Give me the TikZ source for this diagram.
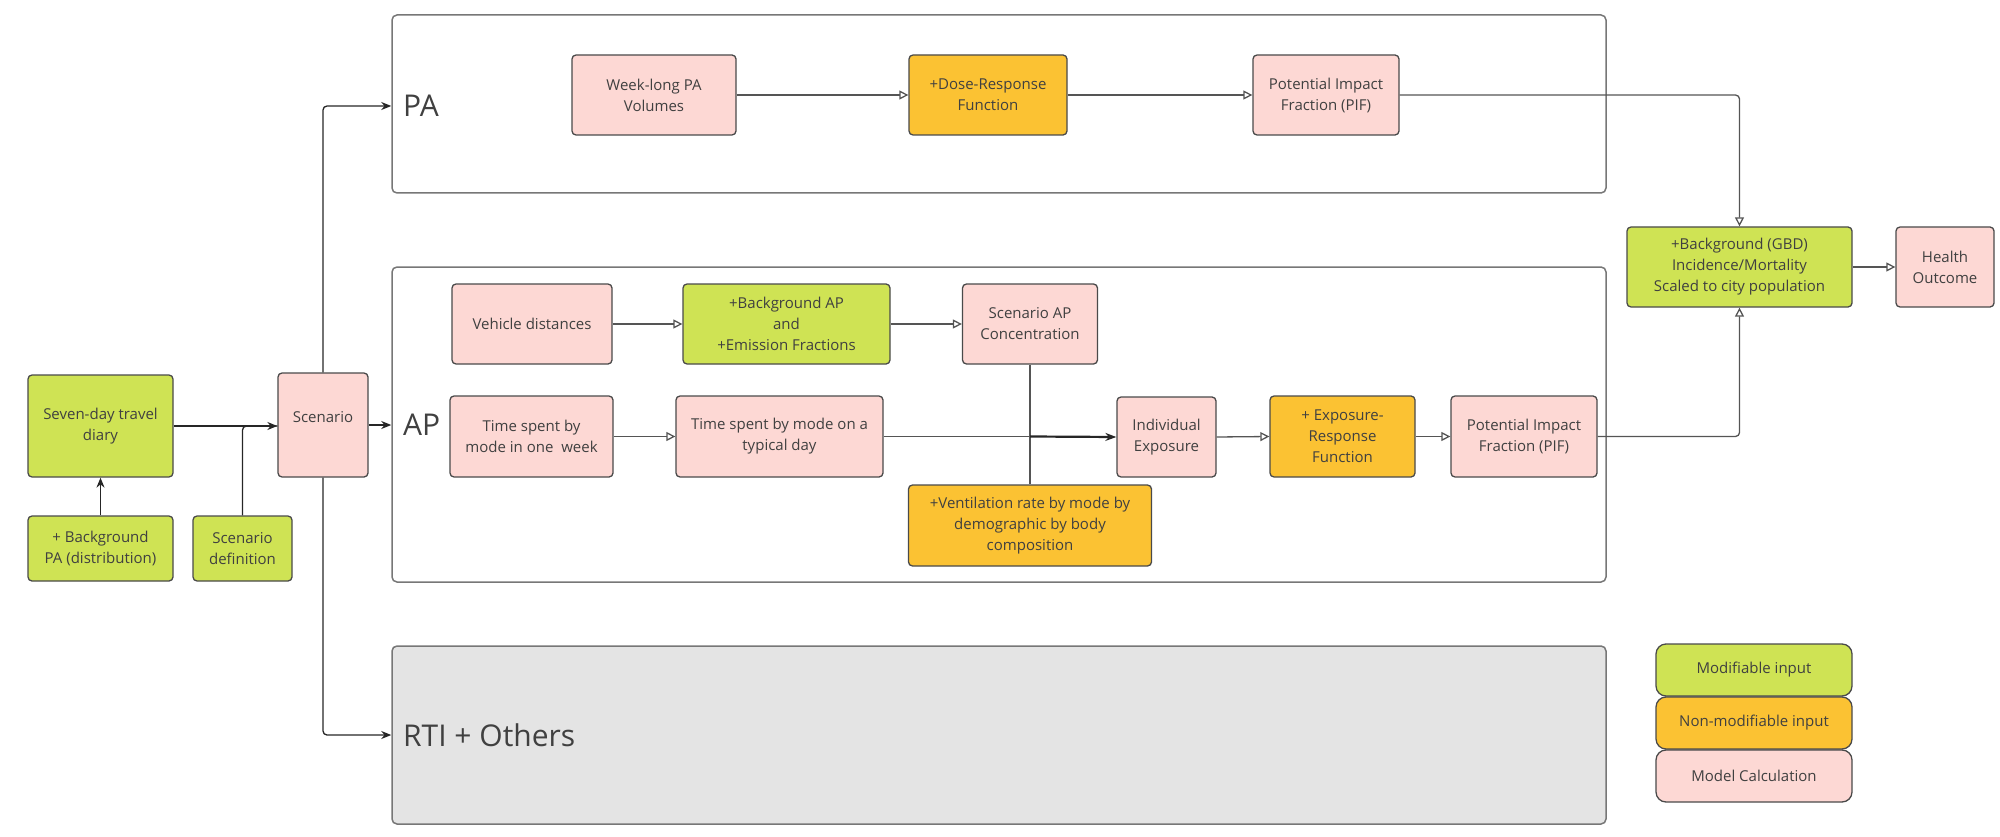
\documentclass[tikz,border=0pt]{standalone}
\usepackage{fontspec}
\setmainfont{Open Sans}
\usetikzlibrary{arrows.meta}
\definecolor{grn}{HTML}{CFE354}
\definecolor{org}{HTML}{FBC233}
\definecolor{pnk}{HTML}{FDD8D4}
\definecolor{rtig}{HTML}{E4E4E4}
\definecolor{bdr}{HTML}{4A4A4A}
\definecolor{gbdr}{HTML}{777777}
\definecolor{txt}{HTML}{404040}
\definecolor{lin}{HTML}{555555}
\tikzset{
  bx/.style={draw=bdr, line width=1.3pt, rounded corners=4pt, align=center, text=txt,
    font=\fontsize{15}{21}\selectfont, inner sep=0pt},
  calcbox/.style={bx, fill=pnk},
  modbox/.style={bx, fill=grn},
  fixbox/.style={bx, fill=org},
  legbox/.style={bx, rounded corners=10pt, minimum width=196pt, minimum height=52pt},
  grp/.style={draw=gbdr, line width=1.5pt, rounded corners=5pt, inner sep=0pt,
    minimum width=1214pt},
  grplab/.style={font=\fontsize{30}{36}\selectfont, text=txt, anchor=west, inner sep=0pt},
  conn/.style={draw=lin, line width=1.3pt, rounded corners=4pt,
    -{Triangle[open, length=9pt, width=9pt]}},
  feed/.style={draw=black!85, line width=1.3pt, rounded corners=4pt,
    -{Stealth[length=10pt, width=8pt]}},
  plain/.style={draw=lin, line width=1.3pt, rounded corners=4pt},
}
\begin{document}
\begin{tikzpicture}[x=1pt, y=-1pt]
\useasboundingbox (0,0) rectangle (2000,837);
% group boxes
\node[grp, minimum height=178pt] (pabox) at (999,104) {};
\node[grp, minimum height=315pt] (apbox) at (999,424.5) {};
\node[grp, fill=rtig, minimum height=178pt] (rtibox) at (999,735) {};
\node[grplab] (palab) at (403,106) {PA};
\node[grplab] (aplab) at (403,425) {AP};
\node[grplab] (rtilab) at (403,735) {RTI + Others};
% left inputs
\node[modbox, minimum width=145pt, minimum height=102pt] (diary) at (100.5,426) {Seven-day travel\\diary};
\node[modbox, minimum width=145pt, minimum height=65pt] (bgpa) at (100.5,548.5) {+ Background\\PA (distribution)};
\node[modbox, minimum width=99pt, minimum height=65pt] (sdef) at (242.5,548.5) {Scenario\\definition};
\node[calcbox, minimum width=90pt, minimum height=104pt] (scen) at (323,425) {\raisebox{16pt}{Scenario}};
% PA row
\node[calcbox, minimum width=164pt, minimum height=80pt] (week) at (654,95) {Week-long PA\\Volumes};
\node[fixbox, minimum width=158pt, minimum height=80pt] (dose) at (988,95) {+Dose-Response\\Function};
\node[calcbox, minimum width=146pt, minimum height=80pt] (pifpa) at (1326,95) {Potential Impact\\Fraction (PIF)};
% outcome
\node[modbox, minimum width=225pt, minimum height=80pt] (gbd) at (1739.5,267) {+Background (GBD)\\Incidence/Mortality\\Scaled to city population};
\node[calcbox, minimum width=98pt, minimum height=80pt] (health) at (1945,267) {Health\\Outcome};
% AP rows
\node[calcbox, minimum width=160pt, minimum height=80pt] (veh) at (532,324) {Vehicle distances};
\node[modbox, minimum width=207pt, minimum height=80pt] (bgap) at (786.5,324) {+Background AP\\and\\+Emission Fractions};
\node[calcbox, minimum width=135pt, minimum height=80pt] (sapc) at (1030,324) {Scenario AP\\Concentration};
\node[calcbox, minimum width=163pt, minimum height=81pt] (tweek) at (531.5,436.5) {Time spent by\\mode in one\ \ week};
\node[calcbox, minimum width=207pt, minimum height=81pt] (tday) at (779.5,436.5) {Time spent by mode on a\\typical day};
\node[calcbox, minimum width=99pt, minimum height=80pt] (ie) at (1166.5,437) {Individual\\Exposure};
\node[fixbox, minimum width=145pt, minimum height=81pt] (er) at (1342.5,436.5) {+ Exposure-\\Response\\Function};
\node[calcbox, minimum width=146pt, minimum height=81pt] (pifap) at (1524,436.5) {Potential Impact\\Fraction (PIF)};
\node[fixbox, minimum width=243pt, minimum height=81pt] (vent) at (1030,525.5) {+Ventilation rate by mode by\\demographic by body\\composition};
% legend
\node[legbox, fill=grn] (leg1) at (1754,670) {Modifiable input};
\node[legbox, fill=org] (leg2) at (1754,723) {Non-modifiable input};
\node[legbox, fill=pnk] (leg3) at (1754,776) {Model Calculation};
% connectors: left part
\draw[feed] (bgpa.north) -- (diary.south);
\draw[plain, draw=black!85] (sdef.north) |- (scen.west |- diary.east);
\draw[feed] (diary.east) -- (scen.west |- diary.east);
\draw[feed] (scen.north) |- (pabox.west |- palab.west);
\draw[feed] (scen.east) -- (apbox.west |- scen.east);
\draw[feed] (scen.south) |- (rtibox.west |- rtilab.west);
% PA
\draw[conn] (week.east) -- (dose.west);
\draw[conn] (dose.east) -- (pifpa.west);
\draw[conn] (pifpa.east) -| (gbd.north);
% AP
\draw[conn] (veh.east) -- (bgap.west);
\draw[conn] (bgap.east) -- (sapc.west);
\draw[conn] (tweek.east) -- (tday.west);
\coordinate (jn) at (sapc.south |- tday.east);
\draw[plain] (tday.east) -- (jn);
\draw[plain] (sapc.south) -- (jn);
\draw[plain] (vent.north) -- (jn);
\draw[draw=black!85, line width=2.2pt, -{Stealth[length=11pt, width=8pt]}] (jn) -- (ie.west);
\draw[conn] (ie.east) -- (er.west);
\draw[conn] (er.east) -- (pifap.west);
\draw[conn] (pifap.east) -| (gbd.south);
\draw[conn] (gbd.east) -- (health.west);
\end{tikzpicture}
\end{document}
